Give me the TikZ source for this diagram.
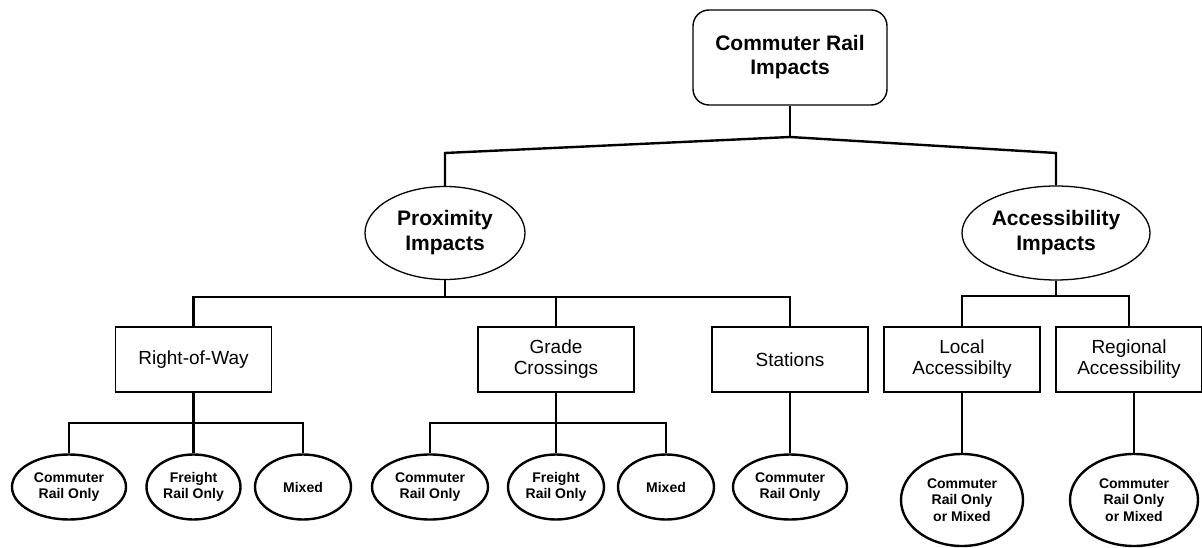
\documentclass[tikz,border=0pt]{standalone}
\usepackage{fontspec}
\setmainfont{Liberation Sans}
\usetikzlibrary{shapes.geometric}
\begin{document}
\begin{tikzpicture}[x=1pt,y=-1pt,
  conn/.style={line width=2.4pt},
  topbox/.style={draw,line width=1.4pt,rounded corners=16pt,minimum width=194pt,minimum height=95pt,align=center,inner sep=0pt,font=\bfseries\fontsize{21}{24}\selectfont},
  midell/.style={draw,ellipse,line width=1.3pt,inner sep=0pt,align=center,font=\bfseries\fontsize{21}{25}\selectfont},
  subbox/.style={draw,line width=1.4pt,minimum width=156pt,minimum height=65pt,inner sep=0pt,align=center,font=\fontsize{19}{21}\selectfont},
  leaf/.style={draw,ellipse,line width=2.4pt,inner sep=0pt,align=center,font=\bfseries\fontsize{14}{16.5}\selectfont}
]
\useasboundingbox (0,0) rectangle (1202,548);
% level 1
\node[topbox] (top) at (790,57.5) {Commuter Rail\\Impacts};
% level 2
\node[midell,minimum width=160pt,minimum height=93pt] (prox) at (445,233) {Proximity\\Impacts};
\node[midell,minimum width=188pt,minimum height=94pt] (acc) at (1056,233) {Accessibility\\Impacts};
% level 3
\node[subbox] (row) at (193.5,359.5) {Right-of-Way};
\node[subbox] (gc) at (556,359.5) {Grade\\Crossings};
\node[subbox] (sta) at (790,359.5) {Stations};
\node[subbox] (loc) at (962,359.5) {Local\\Accessibilty};
\node[subbox,minimum width=146pt] (reg) at (1129,359.5) {Regional\\Accessibility};
% level 4
\node[leaf,minimum width=114pt,minimum height=65pt] (c1) at (69,487) {Commuter\\Rail Only};
\node[leaf,minimum width=94pt,minimum height=65pt] (c2) at (193.5,487) {Freight\\Rail Only};
\node[leaf,minimum width=96pt,minimum height=65pt] (c3) at (303,487) {Mixed};
\node[leaf,minimum width=116pt,minimum height=65pt] (c4) at (430,487) {Commuter\\Rail Only};
\node[leaf,minimum width=96pt,minimum height=65pt] (c5) at (556,487) {Freight\\Rail Only};
\node[leaf,minimum width=96pt,minimum height=65pt] (c6) at (666,487) {Mixed};
\node[leaf,minimum width=114pt,minimum height=65pt] (c7) at (790,487) {Commuter\\Rail Only};
\node[leaf,minimum width=122pt,minimum height=92pt] (c8) at (962,500) {Commuter\\Rail Only\\or Mixed};
\node[leaf,minimum width=128pt,minimum height=92pt] (c9) at (1134,500) {Commuter\\Rail Only\\or Mixed};
% connectors level 1-2
\coordinate (pk) at (790,137);
\coordinate (pl) at (445,153);
\coordinate (pr) at (1056,153);
\draw[conn] (top.south) -- (pk);
\draw[conn] (prox.north) -- (pl) -- (pk) -- (pr) -- (acc.north);
% level 2-3
\coordinate (pb) at (445,297);
\coordinate (ab) at (1056,296);
\draw[conn] (prox.south) -- (pb);
\draw[conn] (row.north) -- (row.north |- pb) -- (sta.north |- pb) -- (sta.north);
\draw[conn] (gc.north) -- (gc.north |- pb);
\draw[conn] (acc.south) -- (ab);
\draw[conn] (loc.north) -- (loc.north |- ab) -- (reg.north |- ab) -- (reg.north);
% level 3-4
\coordinate (rb) at (193.5,423);
\coordinate (gb) at (556,423);
\draw[conn] (row.south) -- (c2.north);
\draw[conn] (c1.north) -- (c1.north |- rb) -- (c3.north |- rb) -- (c3.north);
\draw[conn] (gc.south) -- (c5.north);
\draw[conn] (c4.north) -- (c4.north |- gb) -- (c6.north |- gb) -- (c6.north);
\draw[conn] (sta.south) -- (c7.north);
\draw[conn] (loc.south) -- (c8.north);
\draw[conn] (reg.south -| c9.north) -- (c9.north);
\end{tikzpicture}
\end{document}
